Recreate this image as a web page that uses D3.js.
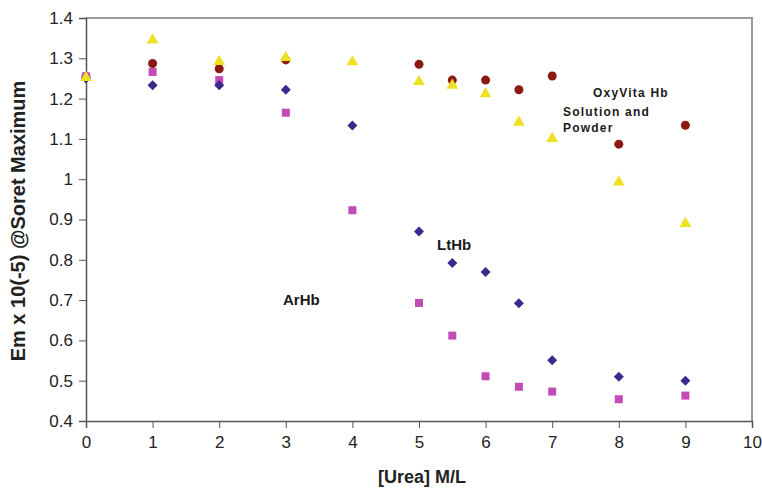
<!DOCTYPE html>
<html>
<head>
<meta charset="utf-8">
<script src="https://cdn.jsdelivr.net/npm/d3@7/dist/d3.min.js"></script>
<style>
  body { margin: 0; background: #fff; }
  svg { display: block; font-family: "Liberation Sans", Arial, sans-serif; }
</style>
</head>
<body>
<div id="chart"></div>
<script>
// urea concentrations (M/L)
var ureaX = [0, 1, 2, 3, 4, 5, 5.5, 6, 6.5, 7, 8, 9];
var ureaXCircle = [0, 1, 2, 3, 5, 5.5, 6, 6.5, 7, 8, 9];

var ltHb = [1.25, 1.233, 1.233, 1.222, 1.133, 0.870, 0.792, 0.770, 0.692, 0.551, 0.510, 0.500];
var arHb = [1.255, 1.266, 1.246, 1.165, 0.923, 0.693, 0.612, 0.511, 0.485, 0.473, 0.454, 0.463];
var oxyTri = [1.252, 1.345, 1.292, 1.302, 1.291, 1.242, 1.233, 1.212, 1.141, 1.101, 0.993, 0.890];
var oxyCircle = [1.255, 1.287, 1.274, 1.296, 1.285, 1.246, 1.246, 1.222, 1.256, 1.087, 1.134];

var xTicks = [0, 1, 2, 3, 4, 5, 6, 7, 8, 9, 10];
var yTicks = [0.4, 0.5, 0.6, 0.7, 0.8, 0.9, 1, 1.1, 1.2, 1.3, 1.4];

var width = 762, height = 488;
var margin = {top: 18, right: 10, bottom: 67, left: 86};

var svg = d3.select('#chart').append('svg')
    .attr('width', width)
    .attr('height', height);

var x = d3.scaleLinear().domain([0, 10]).range([margin.left, width - margin.right]);
var y = d3.scaleLinear().domain([0.4, 1.4]).range([height - margin.bottom, margin.top]);

// frame (top and right in light gray)
svg.append('path')
    .attr('d', 'M' + x(0) + ',' + y(1.4) + 'H' + x(10) + 'V' + y(0.4))
    .attr('fill', 'none')
    .attr('stroke', '#9a9a9a')
    .attr('stroke-width', 2);

// axes
var xAxis = svg.append('g')
    .attr('transform', 'translate(0,' + y(0.4) + ')')
    .call(d3.axisBottom(x).tickValues(xTicks).tickSize(7).tickPadding(8).tickFormat(d3.format('d')));
var yAxis = svg.append('g')
    .attr('transform', 'translate(' + x(0) + ',0)')
    .call(d3.axisLeft(y).tickValues(yTicks).tickSize(7).tickPadding(6).tickFormat(function(d){ return d3.format('')(+d.toFixed(1)); }));

[xAxis, yAxis].forEach(function(a){
    a.select('.domain').attr('stroke', '#555').attr('stroke-width', 1.5);
    a.selectAll('.tick line').attr('stroke', '#555');
    a.selectAll('.tick text')
        .attr('fill', '#222')
        .style('font-size', '17px')
        .style('font-family', '"Liberation Sans", Arial, sans-serif');
});

// axis titles
svg.append('text')
    .attr('x', x(5) + 3)
    .attr('y', 483)
    .attr('text-anchor', 'middle')
    .style('font-weight', 'bold')
    .style('font-size', '18px')
    .attr('fill', '#222')
    .text('[Urea] M/L');

svg.append('text')
    .attr('transform', 'translate(25,221) rotate(-90)')
    .attr('text-anchor', 'middle')
    .style('font-weight', 'bold')
    .style('font-size', '20px')
    .attr('fill', '#222')
    .text('Em x 10(-5) @Soret Maximum');

var plot = svg.append('g');

// OxyVita circles
plot.selectAll('circle.oxy')
    .data(ureaXCircle.map(function(d, i){ return [d, oxyCircle[i]]; }))
    .enter().append('circle')
    .attr('class', 'oxy')
    .attr('cx', function(d){ return x(d[0]); })
    .attr('cy', function(d){ return y(d[1]); })
    .attr('r', 4.5)
    .attr('fill', '#8c1a14');

// ArHb squares
plot.selectAll('rect.ar')
    .data(ureaX.map(function(d, i){ return [d, arHb[i]]; }))
    .enter().append('rect')
    .attr('class', 'ar')
    .attr('x', function(d){ return x(d[0]) - 4; })
    .attr('y', function(d){ return y(d[1]) - 4; })
    .attr('width', 8)
    .attr('height', 8)
    .attr('fill', '#c34bb4');

// LtHb diamonds
plot.selectAll('path.lt')
    .data(ureaX.map(function(d, i){ return [d, ltHb[i]]; }))
    .enter().append('path')
    .attr('class', 'lt')
    .attr('d', d3.symbol().type(d3.symbolDiamond2).size(64))
    .attr('transform', function(d){ return 'translate(' + x(d[0]) + ',' + y(d[1]) + ')'; })
    .attr('fill', '#3a2a8c');

// OxyVita triangles
plot.selectAll('path.tri')
    .data(ureaX.map(function(d, i){ return [d, oxyTri[i]]; }))
    .enter().append('path')
    .attr('class', 'tri')
    .attr('d', d3.symbol().type(d3.symbolTriangle).size(60))
    .attr('transform', function(d){ return 'translate(' + x(d[0]) + ',' + y(d[1]) + ')'; })
    .attr('fill', '#eee022');

// annotations
var labels = [
    {t: 'OxyVita Hb', x: 593, y: 97, s: 12, ls: 1.2},
    {t: 'Solution and', x: 563, y: 116, s: 12, ls: 1.2},
    {t: 'Powder', x: 563, y: 132, s: 12, ls: 1.2},
    {t: 'LtHb', x: 437, y: 250, s: 15, ls: 0},
    {t: 'ArHb', x: 283, y: 305, s: 15, ls: 0}
];
svg.selectAll('text.ann')
    .data(labels)
    .enter().append('text')
    .attr('class', 'ann')
    .attr('x', function(d){ return d.x; })
    .attr('y', function(d){ return d.y; })
    .style('font-size', function(d){ return d.s + 'px'; })
    .style('letter-spacing', function(d){ return d.ls + 'px'; })
    .style('font-weight', 'bold')
    .attr('fill', '#1a1a1a')
    .text(function(d){ return d.t; });
</script>
</body>
</html>
